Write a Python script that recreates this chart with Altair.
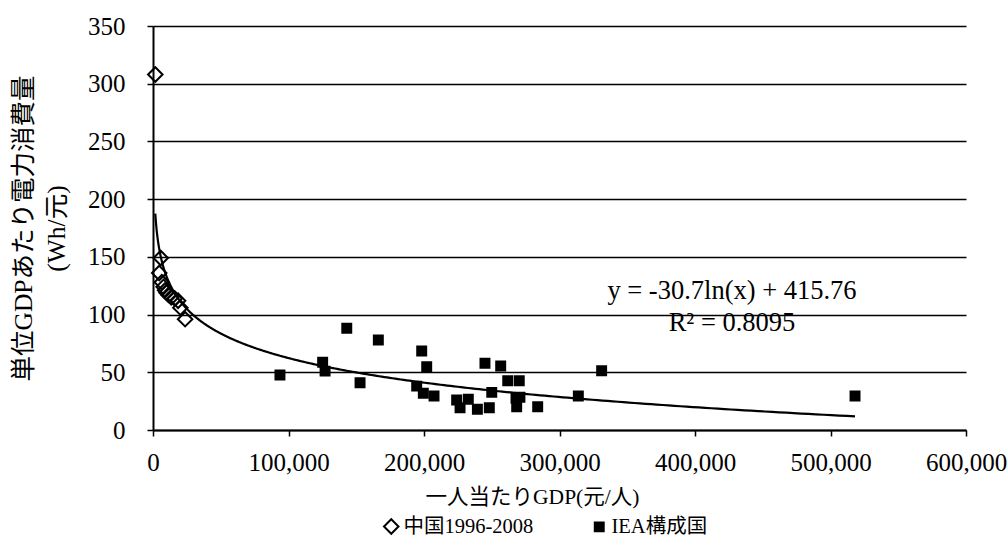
import altair as alt
import pandas as pd

# China, 1996-2008: GDP per capita (yuan) and electricity use per unit GDP (Wh/yuan)
china_gdp = [1700, 5700, 4600, 6500, 7800, 8900, 10000, 11500, 13500, 16000, 18500, 20200, 23700]
china_elec = [308, 149, 136, 128, 124, 121, 119, 117, 115, 114, 112, 106, 96]

# IEA member countries
iea_gdp = [93700, 125200, 127000, 143000, 152800, 166300, 194600, 198300, 199500,
           202000, 207400, 224100, 226600, 232700, 239400, 245000, 248200, 250000,
           256600, 261800, 267900, 268400, 270300, 270800, 283900, 313900, 331100,
           518100]
iea_elec = [47.7, 58.7, 51.0, 88.1, 41.0, 78.0, 38.0, 68.5, 31.8, 54.9, 29.5, 26.0,
            19.3, 26.6, 17.9, 57.8, 19.3, 32.6, 55.5, 42.7, 27.4, 20.2, 42.7, 28.3,
            20.2, 29.5, 51.4, 29.5]

series_names = ["中国1996-2008", "IEA構成国"]

# Logarithmic trendline y = a*ln(x) + b
trend_slope = -30.7
trend_intercept = 415.76
trend_label = "y = -30.7ln(x) + 415.76"
r2_label = "R² = 0.8095"

x_ticks = [0, 100000, 200000, 300000, 400000, 500000, 600000]
y_ticks = [0, 50, 100, 150, 200, 250, 300, 350]

FONT = "Liberation Serif, Noto Sans CJK JP"

points = pd.DataFrame({
    "gdp": china_gdp + iea_gdp,
    "elec": china_elec + iea_elec,
    "series": [series_names[0]] * len(china_gdp) + [series_names[1]] * len(iea_gdp),
})

x_lo = min(points["gdp"])
x_hi = max(points["gdp"])

x_enc = alt.X("gdp:Q", scale=alt.Scale(domain=[0, 600000], nice=False),
              axis=alt.Axis(values=x_ticks, format=",d", grid=False, labelFlush=False,
                            title="一人当たりGDP(元/人)", titleFontSize=21.5,
                            titleX=379, titleY=67, titleAlign="center",
                            titleBaseline="middle", titleAnchor="start"))
y_enc = alt.Y("elec:Q", scale=alt.Scale(domain=[0, 350], nice=False),
              axis=alt.Axis(values=y_ticks, grid=True,
                            title=["単位GDPあたり電力消費量", "(Wh/元)"],
                            titleColor="black", titleFontSize=25.5,
                            titlePadding=18, titleLineHeight=33))

legend_kw = dict(title=None)
scatter = alt.Chart(points).mark_point(
    filled=True, opacity=1, strokeWidth=2
).encode(
    x=x_enc,
    y=y_enc,
    shape=alt.Shape("series:N", scale=alt.Scale(domain=series_names, range=["diamond", "square"]),
                    legend=alt.Legend(**legend_kw)),
    fill=alt.Fill("series:N", scale=alt.Scale(domain=series_names, range=["transparent", "black"]),
                  legend=alt.Legend(**legend_kw)),
    stroke=alt.Stroke("series:N", scale=alt.Scale(domain=series_names, range=["black", "black"]),
                      legend=alt.Legend(**legend_kw)),
    size=alt.Size("series:N", scale=alt.Scale(domain=series_names, range=[210, 80]),
                  legend=alt.Legend(**legend_kw)),
)

trend = alt.Chart(alt.sequence(0, 1.0005, 0.002, as_="t")).transform_calculate(
    gdp=f"{x_lo} * pow({x_hi} / {x_lo}, datum.t)"
).transform_calculate(
    elec=f"{trend_slope} * log(datum.gdp) + {trend_intercept}"
).mark_line(color="black", strokeWidth=2.2).encode(
    x="gdp:Q", y="elec:Q", order="t:Q"
)

notes = pd.DataFrame({
    "gdp": [427300, 427300],
    "elec": [120.5, 93.0],
    "label": [trend_label, r2_label],
})
annot = alt.Chart(notes).mark_text(
    font=FONT, fontSize=26.5, color="black", align="center", baseline="middle"
).encode(x="gdp:Q", y="elec:Q", text="label:N")

chart = alt.layer(scatter, trend, annot).properties(
    width=813, height=404,
    autosize=alt.AutoSizeParams(type="none"),
    padding={"left": 153, "top": 26, "right": 41, "bottom": 115},
).configure_view(
    stroke=None
).configure_axis(
    domainColor="black", domainWidth=2,
    gridColor="black", gridWidth=1.5,
    tickColor="black", tickSize=6, tickWidth=1.5,
    labelFont=FONT, labelFontSize=25, labelColor="black",
    titleFont=FONT, titleFontSize=25, titleColor="black", titleFontWeight="normal",
).configure_axisY(
    labelPadding=22
).configure_axisX(
    labelPadding=14
).configure_legend(
    orient="none", legendX=228, legendY=490, direction="horizontal",
    labelFont=FONT, labelFontSize=20.5, labelColor="black",
    labelOffset=2, columnPadding=55,
    symbolStrokeWidth=2,
)

chart.save("out.html", embed_options={"renderer": "svg", "actions": False})
